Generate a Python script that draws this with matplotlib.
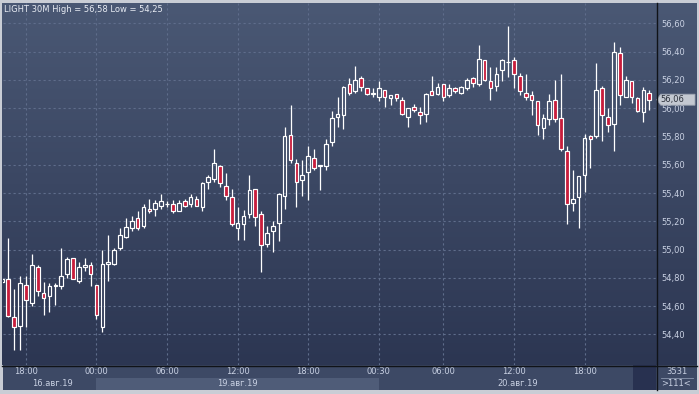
import numpy as np
import matplotlib
matplotlib.use("Agg")
import matplotlib.pyplot as plt
from matplotlib.patches import Rectangle, Polygon
from matplotlib.lines import Line2D
from matplotlib.colors import LinearSegmentedColormap

plt.rcParams['font.family'] = ['DejaVu Sans']

# LIGHT 30M candles, the first one is cut by the left edge
opens = [54.77, 54.79, 54.52, 54.46, 54.75, 54.62, 54.88, 54.69, 54.67, 54.74, 54.74,
         54.83, 54.94, 54.78, 54.88, 54.89, 54.75, 54.45, 54.90, 54.90, 55.01,
         55.09, 55.15, 55.22, 55.17, 55.29, 55.29, 55.31, 55.32, 55.32, 55.27,
         55.34, 55.32, 55.36, 55.30, 55.48, 55.50, 55.59, 55.45, 55.37, 55.15,
         55.18, 55.25, 55.43, 55.25, 55.04, 55.13, 55.19, 55.38, 55.81, 55.61,
         55.49, 55.55, 55.65, 55.59, 55.59, 55.76, 55.94, 55.95, 56.17, 56.12,
         56.21, 56.14, 56.11, 56.08, 56.13, 56.07, 56.10, 56.06, 55.94, 56.01,
         55.97, 55.96, 56.12, 56.10, 56.17, 56.09, 56.14, 56.11, 56.14, 56.21,
         56.17, 56.34, 56.19, 56.16, 56.27, 56.33, 56.34, 56.23, 56.11, 56.09,
         56.05, 55.86, 55.92, 56.06, 55.93, 55.70, 55.33, 55.37, 55.53, 55.80,
         55.80, 56.14, 55.94, 55.89, 56.39, 56.08, 56.19, 56.07, 55.97, 56.11]
highs = [54.80, 55.08, 54.72, 54.81, 54.81, 54.97, 54.89, 54.77, 54.76, 54.76, 55.01,
         54.95, 54.94, 54.91, 54.94, 54.91, 54.75, 55.00, 55.10, 55.01, 55.15,
         55.22, 55.24, 55.27, 55.32, 55.36, 55.35, 55.39, 55.34, 55.35, 55.35,
         55.36, 55.39, 55.38, 55.48, 55.53, 55.71, 55.60, 55.54, 55.43, 55.30,
         55.28, 55.53, 55.43, 55.27, 55.17, 55.20, 55.40, 55.87, 56.02, 55.64,
         55.63, 55.73, 55.71, 55.60, 55.78, 55.98, 56.08, 56.16, 56.21, 56.30,
         56.23, 56.14, 56.14, 56.19, 56.13, 56.09, 56.10, 56.08, 56.00, 56.03,
         56.01, 56.11, 56.23, 56.18, 56.17, 56.17, 56.15, 56.16, 56.21, 56.22,
         56.45, 56.34, 56.29, 56.29, 56.35, 56.58, 56.36, 56.25, 56.24, 56.12,
         56.05, 55.96, 56.10, 56.20, 56.24, 55.73, 55.56, 55.52, 55.82, 55.81,
         56.32, 56.16, 56.00, 56.47, 56.43, 56.23, 56.19, 56.08, 56.15, 56.13]
lows = [54.76, 54.52, 54.29, 54.29, 54.45, 54.60, 54.67, 54.54, 54.56, 54.61, 54.72,
        54.80, 54.79, 54.76, 54.85, 54.74, 54.51, 54.42, 54.78, 54.89, 55.00,
        55.08, 55.13, 55.14, 55.15, 55.26, 55.24, 55.29, 55.30, 55.26, 55.27,
        55.30, 55.30, 55.31, 55.27, 55.43, 55.48, 55.44, 55.35, 55.17, 55.07,
        55.07, 55.22, 55.17, 54.84, 55.02, 54.98, 55.06, 55.29, 55.61, 55.30,
        55.38, 55.35, 55.56, 55.42, 55.56, 55.73, 55.87, 55.85, 56.09, 56.11,
        56.12, 56.09, 56.08, 56.05, 56.01, 56.02, 56.05, 55.95, 55.87, 55.97,
        55.89, 55.90, 56.09, 56.09, 56.05, 56.08, 56.11, 56.10, 56.13, 56.15,
        56.16, 56.19, 56.06, 56.12, 56.19, 56.22, 56.14, 56.09, 56.06, 55.95,
        55.81, 55.78, 55.88, 55.90, 55.70, 55.18, 55.27, 55.15, 55.41, 55.58,
        55.79, 55.77, 55.83, 55.70, 56.02, 56.08, 56.04, 55.97, 55.90, 55.99]
closes = [54.79, 54.53, 54.45, 54.76, 54.64, 54.89, 54.71, 54.66, 54.74, 54.75, 54.81,
          54.93, 54.79, 54.88, 54.89, 54.83, 54.54, 54.90, 54.91, 55.00, 55.10,
          55.16, 55.20, 55.15, 55.30, 55.27, 55.33, 55.34, 55.32, 55.27, 55.33,
          55.31, 55.37, 55.31, 55.47, 55.51, 55.61, 55.47, 55.38, 55.18, 55.19,
          55.24, 55.42, 55.23, 55.03, 55.12, 55.17, 55.39, 55.80, 55.63, 55.48,
          55.53, 55.66, 55.58, 55.60, 55.75, 55.93, 55.96, 56.15, 56.11, 56.20,
          56.15, 56.10, 56.10, 56.14, 56.08, 56.09, 56.07, 55.96, 56.00, 55.99,
          55.95, 56.10, 56.09, 56.15, 56.08, 56.14, 56.12, 56.15, 56.20, 56.18,
          56.35, 56.20, 56.14, 56.24, 56.34, 56.33, 56.24, 56.12, 56.08, 56.06,
          55.88, 55.93, 56.05, 55.92, 55.71, 55.32, 55.36, 55.52, 55.79, 55.78,
          56.13, 55.95, 55.88, 56.40, 56.09, 56.20, 56.08, 55.98, 56.13, 56.06]

time_ticks = [3, 15, 27, 39, 51, 63, 74, 86, 98]
time_labels = ['18:00', '00:00', '06:00', '12:00', '18:00', '00:30', '06:00', '12:00', '18:00']
day_starts = [0, 15, 63]
day_labels = ['16.авг.19', '19.авг.19', '20.авг.19']
price_ticks = [54.4, 54.6, 54.8, 55.0, 55.2, 55.4, 55.6, 55.8, 56.0, 56.2, 56.4, 56.6]
last_price = 56.06
title = 'LIGHT 30M High = 56,58 Low = 54,25'
bars_count = '3531'
visible_count = '>111<'

W, H = 699, 394
X0, X1 = -0.9, 110.15
Y0, Y1 = 54.1835, 56.744
RED = '#c81d3c'
TXT = '#c9d1e3'


def px_rect(l, t, r, b):
    return [l / W, 1 - b / H, (r - l) / W, (b - t) / H]


fig = plt.figure(figsize=(W / 100, H / 100), dpi=100, facecolor='#c9cdd5')

# gradient background behind the price area and price scale
bg = fig.add_axes(px_rect(2, 3, 697, 365))
cmap = LinearSegmentedColormap.from_list('bg', ['#4a5874', '#2c3652'])
bg.imshow(np.linspace(0, 1, 256).reshape(-1, 1), cmap=cmap, aspect='auto', extent=[0, 1, 0, 1])
bg.axis('off')

ax = fig.add_axes(px_rect(3, 3, 656, 365))
ax.set_facecolor('none')
ax.set_xlim(X0, X1)
ax.set_ylim(Y0, Y1)
for s in ax.spines.values():
    s.set_visible(False)
ax.set_xticks(time_ticks)
ax.tick_params(axis='x', length=0, labelbottom=False)
ax.yaxis.tick_right()
ax.set_yticks(price_ticks)
ax.set_yticklabels([f'{v:.2f}'.replace('.', ',') for v in price_ticks])
ax.tick_params(axis='y', length=0, pad=4, labelsize=6, labelcolor=TXT)
ax.grid(True, color='#5f6d8b', linestyle=(0, (2, 2.5)), linewidth=0.8)
ax.set_axisbelow(True)

xs = np.arange(len(opens)) - 1
bw = 0.62
for x, o, h, l, c in zip(xs, opens, highs, lows, closes):
    top, bot = max(o, c), min(o, c)
    ax.vlines(x, top, h, color='white', lw=0.9, zorder=3)
    ax.vlines(x, l, bot, color='white', lw=0.9, zorder=3)
    fc = RED if c < o else 'none'
    ax.add_patch(Rectangle((x - bw / 2, bot), bw, top - bot, facecolor=fc,
                           edgecolor='white', lw=0.85, zorder=4))

fig.text(4 / W, 1 - 9 / H, title, ha='left', va='center', fontsize=6, color='#e8ecf4')

# last price tag on the price scale
ax_r = fig.add_axes(px_rect(656, 3, 697, 365))
ax_r.set_facecolor('none')
ax_r.set_xlim(0, 41)
ax_r.set_ylim(Y0, Y1)
ax_r.axis('off')
hh = 5.5 / 141.4
ax_r.add_patch(Polygon([(0.7, last_price), (4.7, last_price + hh), (39, last_price + hh),
                        (39, last_price - hh), (4.7, last_price - hh)], closed=True,
                       facecolor='#c3c8d1', edgecolor='#9aa2b0', lw=0.6))
ax_r.text(4.2, last_price, f'{last_price:.2f}'.replace('.', ','), ha='left', va='center',
          fontsize=6, color='#2a2f3a')

# time scale
ax_d = fig.add_axes(px_rect(3, 365, 656, 390))
ax_d.set_facecolor('#3d4965')
ax_d.set_xlim(X0, X1)
ax_d.set_ylim(0, 1)
ax_d.axis('off')
ax_d.add_patch(Rectangle((X0, 0), X1 - X0, 1, facecolor='#3d4965', lw=0))
day_edges = day_starts + [X1]
for k, lbl in enumerate(day_labels):
    if k % 2 == 1:
        ax_d.axvspan(day_edges[k], day_edges[k + 1], 0, 0.48, color='#4f5c78', lw=0)
    ax_d.text((day_edges[k] + day_edges[k + 1]) / 2, 0.25, lbl, ha='center', va='center',
              fontsize=6, color=TXT)
ax_d.axvspan(106.2, X1, 0, 1, color='#283150', lw=0)
for t, lbl in zip(time_ticks, time_labels):
    ax_d.text(t, 0.72, lbl, ha='center', va='center', fontsize=6, color=TXT)

ax_rb = fig.add_axes(px_rect(656, 365, 697, 390))
ax_rb.set_xlim(0, 1)
ax_rb.set_ylim(0, 1)
ax_rb.axis('off')
ax_rb.add_patch(Rectangle((0, 0), 1, 1, facecolor='#3d4965', lw=0))
ax_rb.text(0.5, 0.72, bars_count, ha='center', va='center', fontsize=6, color=TXT)
ax_rb.text(0.5, 0.25, visible_count, ha='center', va='center', fontsize=6, color=TXT)
ax_rb.plot([0.12, 0.9], [0.49, 0.49], color='#8a96ad', lw=0.6)

fig.add_artist(Line2D([656.5 / W] * 2, [1 - 3 / H, 1 - 390 / H], color='#101318', lw=1))
fig.add_artist(Line2D([2 / W, 697 / W], [1 - 365.5 / H] * 2, color='#101318', lw=1))

fig.savefig('out.png', dpi=100, facecolor=fig.get_facecolor())
